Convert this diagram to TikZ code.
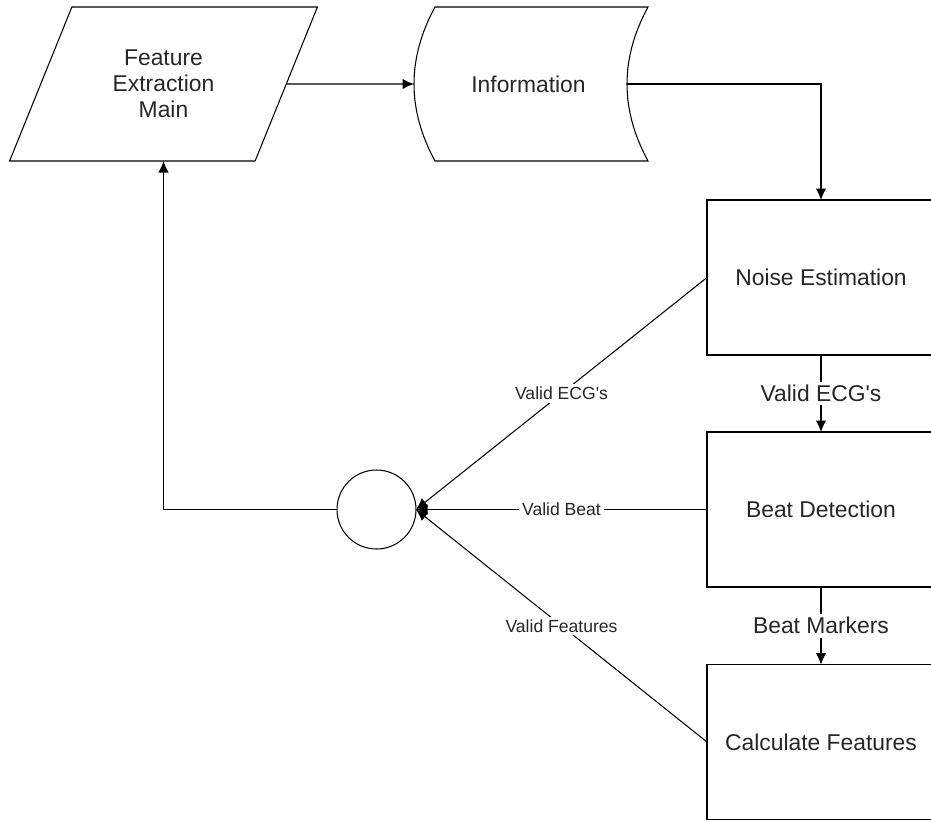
\documentclass[tikz,border=0pt]{standalone}
\usepackage{fontspec}
\setmainfont{Liberation Sans}
\usepackage{tikz}
\usetikzlibrary{%
  arrows.meta,%
  calc,%
  shapes.geometric%
}
\tikzset{>={Latex[length=2.3mm,width=2.1mm]}}
\tikzset{block/.style = {draw, rectangle, minimum width=4.56cm, minimum height=3.1cm,
    inner sep=0pt, outer sep=0pt, text=black!85, font=\fontsize{13}{15}\selectfont},
  iobox/.style = {draw, trapezium, trapezium left angle=63, trapezium right angle=117,
    trapezium stretches=true, minimum width=6.22cm, minimum height=3.08cm,
    inner sep=0pt, outer sep=0pt, align=center, text=black!85,
    font=\fontsize{13}{14.75}\selectfont},
  datablock/.style = {rectangle, minimum width=4.26cm, minimum height=3.08cm,
    inner sep=0pt, outer sep=0pt},
  flowlabel/.style = {fill=white, inner sep=2pt, text=black!85, font=\fontsize{13}{15}\selectfont},
  linklabel/.style = {fill=white, inner sep=1.5pt, text=black!85, font=\fontsize{10}{12}\selectfont},
  junction/.style = {draw, circle, minimum size=1.58cm, inner sep=0pt, outer sep=0pt}}

\begin{document}
\begin{tikzpicture}[line width=0.6pt]
    \clip (0,0) rectangle (18.62,-16.42);
    \node[iobox] (main) at (3.27,-1.68) {Feature\\Extraction\\Main};
    \node[datablock, label={[xshift=-0.26cm, text=black!85, font=\fontsize{13}{15}\selectfont]center:Information}] (info) at (10.83,-1.68) {};
    \draw (info.north west) .. controls ($(info.north west)+(-0.56,-1.03)$) and ($(info.south west)+(-0.56,1.03)$) .. (info.south west)
      -- (info.south east) .. controls ($(info.south east)+(-0.56,1.03)$) and ($(info.north east)+(-0.56,-1.03)$) .. (info.north east) -- cycle;
    \coordinate (infoin) at ($(info.west)+(-0.42,0)$);
    \coordinate (infoout) at ($(info.east)+(-0.42,0)$);
    \node[block] (noise) at (16.42,-5.55) {Noise Estimation};
    \node[block] (beat) at (16.42,-10.19) {Beat Detection};
    \node[block] (calc) at (16.42,-14.84) {Calculate Features};
    \node[junction] (join) at (7.53,-10.19) {};

    \draw[->] (main.east) -- (infoin);
    \draw[->] (infoout) -| (noise.north);
    \draw[->] (noise.south) -- node[flowlabel] {Valid ECG\textquotesingle s} (beat.north);
    \draw[->] (beat.south) -- node[flowlabel] {Beat Markers} (calc.north);
    \draw[->] (noise.west) -- node[linklabel] {Valid ECG\textquotesingle s} (join.east);
    \draw[->] (beat.west) -- node[linklabel] {Valid Beat} (join.east);
    \draw[->] (calc.west) -- node[linklabel] {Valid Features} (join.east);
    \draw[->] (join.west) -| (main.south);
\end{tikzpicture}
\end{document}
